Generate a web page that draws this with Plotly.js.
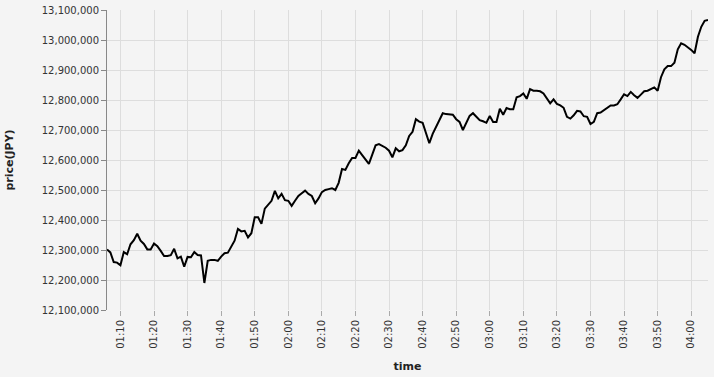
<!DOCTYPE html>
<html>
<head>
<meta charset="utf-8">
<script src="https://cdn.plot.ly/plotly-3.0.1.min.js"></script>
<style>html,body{margin:0;padding:0;background:#f4f4f4;}#chart{width:714px;height:377px;}</style>
</head>
<body>
<div id="chart"></div>
<script>
var day = "2024-01-01";
var times = [
"01:06","01:07","01:08","01:09","01:10","01:11","01:12","01:13","01:14","01:15","01:16","01:17","01:18","01:19",
"01:20","01:21","01:22","01:23","01:24","01:25","01:26","01:27","01:28","01:29",
"01:30","01:31","01:32","01:33","01:34","01:35","01:36","01:37","01:38","01:39",
"01:40","01:41","01:42","01:43","01:44","01:45","01:46","01:47","01:48","01:49",
"01:50","01:51","01:52","01:53","01:54","01:55","01:56","01:57","01:58","01:59",
"02:00","02:01","02:02","02:03","02:04","02:05","02:06","02:07","02:08","02:09",
"02:10","02:11","02:12","02:13","02:14","02:15","02:16","02:17","02:18","02:19",
"02:20","02:21","02:22","02:23","02:24","02:25","02:26","02:27","02:28","02:29",
"02:30","02:31","02:32","02:33","02:34","02:35","02:36","02:37","02:38","02:39",
"02:40","02:41","02:42","02:43","02:44","02:45","02:46","02:47","02:48","02:49",
"02:50","02:51","02:52","02:53","02:54","02:55","02:56","02:57","02:58","02:59",
"03:00","03:01","03:02","03:03","03:04","03:05","03:06","03:07","03:08","03:09",
"03:10","03:11","03:12","03:13","03:14","03:15","03:16","03:17","03:18","03:19",
"03:20","03:21","03:22","03:23","03:24","03:25","03:26","03:27","03:28","03:29",
"03:30","03:31","03:32","03:33","03:34","03:35","03:36","03:37","03:38","03:39",
"03:40","03:41","03:42","03:43","03:44","03:45","03:46","03:47","03:48","03:49",
"03:50","03:51","03:52","03:53","03:54","03:55","03:56","03:57","03:58","03:59",
"04:00","04:01","04:02","04:03","04:04","04:05"
];
var prices = [
12302000,12292000,12260000,12258000,12249000,12293000,12286000,12319000,12333000,12354000,12331000,12320000,12302000,12302000,
12322000,12313000,12297000,12280000,12280000,12283000,12304000,12272000,12278000,12244000,
12277000,12276000,12293000,12283000,12282000,12190000,12264000,12267000,12267000,12264000,
12278000,12289000,12291000,12311000,12331000,12370000,12362000,12364000,12342000,12356000,
12409000,12409000,12387000,12438000,12452000,12464000,12497000,12472000,12487000,12466000,
12464000,12447000,12464000,12480000,12489000,12498000,12487000,12480000,12456000,12472000,
12493000,12500000,12503000,12506000,12500000,12524000,12570000,12567000,12589000,12607000,
12607000,12631000,12616000,12600000,12587000,12618000,12649000,12653000,12647000,12641000,
12631000,12609000,12639000,12629000,12633000,12649000,12680000,12694000,12736000,12728000,
12724000,12687000,12656000,12687000,12709000,12731000,12756000,12753000,12751000,12751000,
12736000,12727000,12700000,12726000,12747000,12756000,12744000,12733000,12729000,12724000,
12747000,12727000,12727000,12771000,12751000,12773000,12769000,12769000,12809000,12813000,
12822000,12804000,12836000,12831000,12831000,12829000,12822000,12804000,12789000,12802000,
12787000,12782000,12774000,12744000,12738000,12749000,12764000,12762000,12746000,12744000,
12720000,12727000,12756000,12758000,12767000,12776000,12782000,12782000,12786000,12802000,
12819000,12813000,12827000,12816000,12807000,12818000,12829000,12831000,12837000,12842000,
12831000,12876000,12902000,12913000,12913000,12924000,12969000,12989000,12984000,12976000,
12967000,12956000,13011000,13044000,13064000,13067000
];
var xStart = "01:06";
var xEnd = "04:05";
var firstTick = "01:10";
var yMin = 12100000, yMax = 13100000, yStep = 100000;

var xs = times.map(function(t){ return day + " " + t + ":00"; });

var trace = {
  x: xs, y: prices, type: "scatter", mode: "lines",
  line: {color: "#000000", width: 2},
  hoverinfo: "skip"
};

var font = "DejaVu Sans, Verdana, sans-serif";
var layout = {
  width: 714, height: 377,
  margin: {l: 107, r: 6, t: 10, b: 67},
  paper_bgcolor: "#f4f4f4",
  plot_bgcolor: "#f4f4f4",
  showlegend: false,
  font: {family: font, size: 10, color: "#333"},
  xaxis: {
    type: "date",
    range: [day + " " + xStart + ":00", day + " " + xEnd + ":00"],
    tick0: day + " " + firstTick + ":00",
    dtick: 600000,
    tickformat: "%H:%M",
    tickangle: -90,
    ticks: "outside", ticklen: 5, tickcolor: "#aaa", tickwidth: 1,
    showgrid: true, gridcolor: "#dddddd", gridwidth: 1,
    showline: false, zeroline: false,
    tickfont: {family: font, size: 10, color: "#333"},
    title: {text: "time", font: {family: font, size: 11, color: "#222", weight: "bold"}, standoff: 14},
    fixedrange: true
  },
  yaxis: {
    range: [yMin, yMax],
    tick0: yMin, dtick: yStep,
    tickformat: ",d",
    ticks: "outside", ticklen: 5, tickcolor: "#888", tickwidth: 1,
    showgrid: true, gridcolor: "#dddddd", gridwidth: 1,
    showline: true, linecolor: "#888", linewidth: 1,
    zeroline: false,
    tickfont: {family: font, size: 10, color: "#333"},
    title: {text: "price(JPY)", font: {family: font, size: 11, color: "#222", weight: "bold"}, standoff: 25},
    fixedrange: true
  }
};

Plotly.newPlot("chart", [trace], layout, {staticPlot: true, displayModeBar: false});
</script>
</body>
</html>
